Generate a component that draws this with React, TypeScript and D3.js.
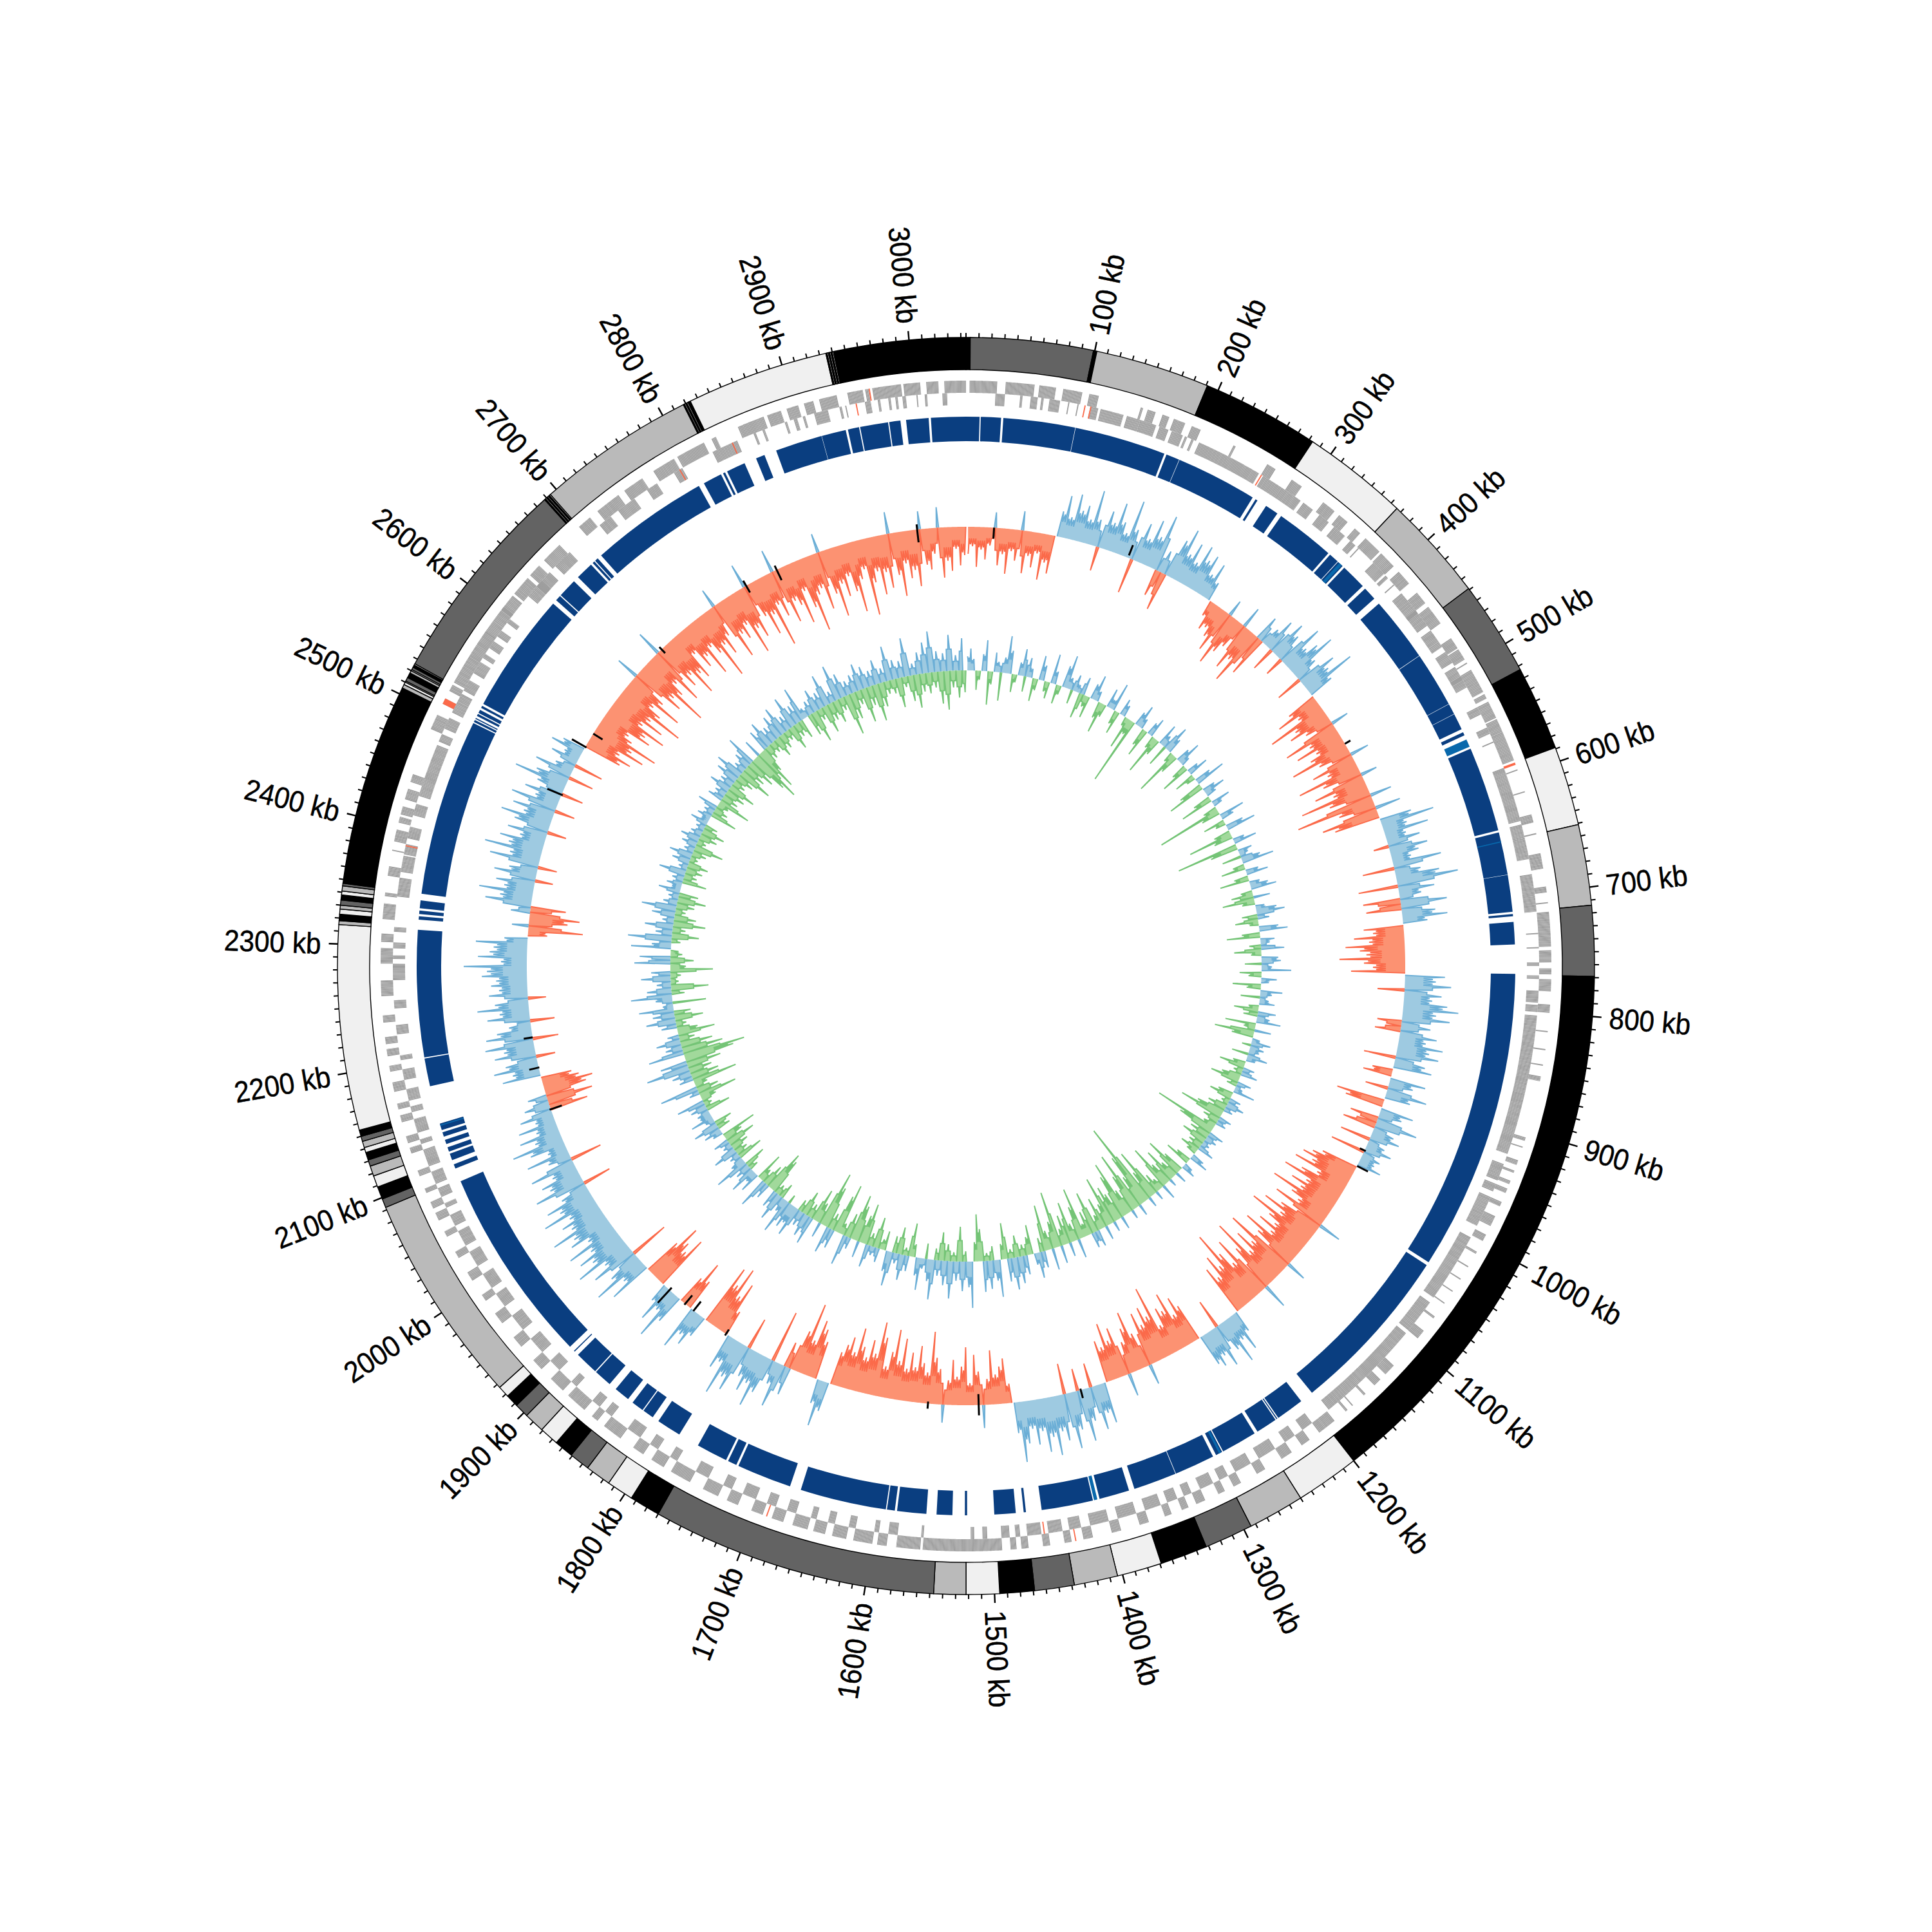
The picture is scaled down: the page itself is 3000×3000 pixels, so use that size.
import { useEffect, useRef } from 'react';
import * as d3 from 'd3';

const genomeKb = 3044;
const windowKb = 5;
const geneKb = 1.15;

// contig ends in kb, and the shade of each contig (k black, d dark, g gray, l light)
const contigEnds = [3.3, 99, 101.7, 191, 283, 366, 449, 523, 589, 651, 714, 769, 1200, 1250, 1294, 1332, 1369, 1404, 1438, 1469, 1496, 1522, 1547, 1770, 1794, 1815, 1835, 1851, 1866, 1881, 1897, 1908, 1918, 1927, 2092, 2099, 2109, 2118, 2126, 2131, 2137, 2141, 2146, 2150, 2155, 2315, 2318, 2323, 2327, 2330, 2334, 2338, 2341, 2345, 2347, 2505, 2508, 2510, 2511, 2514, 2518, 2520, 2521, 2523, 2525, 2526, 2688, 2689, 2690, 2691, 2692, 2693, 2694, 2818, 2819, 2820, 2821, 2822, 2823, 2824, 2935, 2936, 2937, 2938, 2939, 2940, 2941, 2942, 3044];
const contigShades = 'kdkgklgdklgd' + 'klgdklgdklgd' + 'klgdklgdkl' + 'gdklgdklgdk' + 'lgklgdklgd' + 'kglgdkgldkl' + 'dklklkl' + 'gklklkk' + 'lklklklk' + 'k';

// blue track, alignment blocks in kb
const alignedBlocks = [[0, 12], [13, 31], [33, 97], [97.4, 179], [181, 193], [193.4, 266], [269, 271], [280, 292], [296, 349], [351, 360], [360.5, 366], [368, 391], [394, 406], [412, 470], [470.4, 520], [520.3, 530], [530.3, 545], [548, 551], [564, 640], [642, 680], [680.3, 713], [715, 717], [722, 742], [768, 1037], [1040, 1192], [1204, 1229], [1230, 1231], [1232, 1251], [1254, 1286], [1287, 1293], [1296, 1332], [1332.5, 1371], [1376, 1403], [1409, 1455], [1469, 1471], [1478, 1497], [1521, 1523], [1534, 1548], [1557, 1583], [1585, 1592], [1593, 1670], [1680, 1729], [1731, 1739], [1741, 1769], [1788, 1810], [1816, 1826], [1827, 1838], [1843, 1857], [1864, 1880], [1881, 1902], [1906, 1907], [1912, 2088], [2100, 2104], [2108, 2114], [2116, 2120], [2123, 2127], [2130, 2134], [2136, 2142], [2176, 2201], [2202, 2315], [2324, 2327], [2329, 2332], [2334, 2341], [2347, 2505], [2506, 2508], [2509, 2510], [2512, 2514], [2515, 2518], [2520, 2522], [2524, 2632], [2636, 2641], [2642, 2659], [2664, 2680], [2682, 2684], [2685, 2688], [2692, 2798], [2803, 2820], [2822, 2824], [2826, 2843], [2854, 2862], [2873, 2915], [2915.3, 2937], [2939, 2949], [2950, 2975], [2976, 2986], [2991, 3011], [3013, 3044]];
const alignedAccent = [[555, 562], [650, 651], [362, 365], [1405, 1408], [1288, 1290], [2140, 2141]];

// gene clusters by strand, in kb
const genesOuter = [[3, 26], [33, 57], [61, 75], [81, 97], [103, 111], [147, 149], [153, 160], [166, 172], [176, 186], [192, 200], [230, 232], [262, 270], [286, 296], [318, 330], [335, 344], [352, 358], [364, 380], [382, 397], [403, 416], [426, 437], [441, 458], [473, 483], [484, 494], [497, 498], [504, 525], [527, 531], [534, 549], [550, 562], [562, 587], [595, 596], [614, 615], [634, 641], [650, 651], [667, 680], [695, 700], [708, 709], [716, 745], [748, 758], [763, 768], [772, 782], [793, 800], [815, 816], [830, 831], [843, 844], [853, 857], [905, 908], [913, 914], [925, 929], [934, 936], [943, 946], [950, 954], [962, 966], [975, 984], [992, 998], [1008, 1010], [1022, 1023], [1034, 1035], [1046, 1047], [1058, 1059], [1072, 1074], [1087, 1095], [1125, 1135], [1141, 1148], [1158, 1160], [1172, 1173], [1178, 1180], [1192, 1208], [1218, 1226], [1236, 1246], [1262, 1270], [1285, 1292], [1300, 1306], [1318, 1326], [1333, 1339], [1348, 1354], [1368, 1376], [1392, 1400], [1416, 1424], [1434, 1440], [1452, 1458], [1470, 1476], [1480, 1485], [1492, 1558], [1560, 1580], [1588, 1596], [1600, 1616], [1622, 1634], [1640, 1650], [1655, 1668], [1676, 1686], [1694, 1704], [1716, 1726], [1734, 1748], [1760, 1778], [1785, 1797], [1805, 1815], [1828, 1845], [1852, 1858], [1866, 1884], [1890, 1904], [1915, 1925], [1940, 1950], [1965, 1975], [1988, 1994], [2008, 2016], [2030, 2036], [2050, 2055], [2065, 2072], [2076, 2082], [2090, 2094], [2105, 2110], [2125, 2130], [2134, 2140], [2152, 2158], [2163, 2168], [2178, 2186], [2195, 2200], [2208, 2214], [2218, 2224], [2236, 2242], [2258, 2271], [2285, 2298], [2303, 2310], [2322, 2335], [2341, 2344], [2358, 2366], [2379, 2380], [2387, 2397], [2403, 2408], [2410, 2417], [2423, 2432], [2438, 2445], [2485, 2498], [2508, 2513], [2520, 2526], [2528, 2538], [2538, 2554], [2554, 2565], [2565, 2578], [2577, 2589], [2589, 2603], [2600, 2615], [2617, 2634], [2637, 2648], [2654, 2672], [2694, 2706], [2714, 2736], [2742, 2760], [2771, 2791], [2794, 2819], [2826, 2830], [2850, 2873], [2876, 2888], [2893, 2903], [2908, 2916], [2921, 2936], [2945, 2958], [2960, 2963], [2966, 2990], [2992, 3006], [3011, 3021], [3026, 3044]];
const genesInner = [[25, 33], [46, 48], [55, 61], [64, 66], [71, 80], [87, 88], [95, 96], [106, 113], [115, 135], [138, 150], [150, 164], [167, 175], [178, 188], [190, 192], [196, 198], [203, 260], [264, 283], [283, 302], [305, 315], [322, 332], [338, 350], [356, 362], [365, 366], [383, 396], [398, 401], [408, 409], [418, 440], [437, 453], [458, 470], [470, 475], [480, 484], [484, 491], [495, 508], [505, 515], [534, 541], [553, 559], [566, 567], [590, 637], [640, 652], [652, 670], [683, 702], [702, 715], [733, 734], [745, 746], [758, 761], [769, 772], [782, 792], [794, 800], [803, 923], [932, 947], [950, 957], [962, 989], [1000, 1060], [1065, 1095], [1098, 1190], [1208, 1218], [1226, 1236], [1246, 1262], [1270, 1285], [1292, 1300], [1306, 1318], [1326, 1333], [1339, 1348], [1354, 1368], [1376, 1392], [1400, 1416], [1424, 1434], [1440, 1452], [1458, 1470], [1476, 1480], [1485, 1492], [1504, 1508], [1515, 1518], [1558, 1560], [1580, 1588], [1596, 1600], [1616, 1622], [1634, 1640], [1650, 1655], [1668, 1676], [1686, 1694], [1704, 1716], [1726, 1734], [1748, 1760], [1778, 1785], [1797, 1805], [1815, 1828], [1845, 1852], [1858, 1866], [1884, 1890], [1904, 1915], [1925, 1940], [1950, 1965], [1975, 1988], [1994, 2008], [2016, 2030], [2036, 2050], [2055, 2065], [2072, 2076], [2082, 2090], [2094, 2105], [2110, 2125], [2130, 2134], [2140, 2152], [2158, 2163], [2168, 2178], [2186, 2195], [2203, 2207], [2225, 2233], [2247, 2254], [2271, 2285], [2289, 2292], [2298, 2303], [2312, 2316], [2342, 2358], [2363, 2377], [2378, 2387], [2392, 2402], [2412, 2422], [2429, 2445], [2445, 2475], [2478, 2485], [2490, 2500], [2505, 2516], [2516, 2523], [2526, 2536], [2543, 2554], [2558, 2562], [2568, 2575], [2580, 2586], [2594, 2598], [2623, 2640], [2634, 2650], [2657, 2674], [2708, 2720], [2728, 2745], [2758, 2768], [2785, 2793], [2822, 2845], [2860, 2862], [2868, 2870], [2888, 2890], [2896, 2899], [2904, 2906], [2914, 2926], [2936, 2938], [2941, 2942], [2958, 2963], [2969, 2971], [2978, 2980], [2984, 2986], [2990, 2993], [3002, 3003], [3009, 3011], [3024, 3028]];
const rnaOuter = [[589, 591], [1430, 1431], [1690, 1691], [2508, 2513], [2963, 2964]];
const rnaInner = [[101, 102], [106, 107], [262, 263], [1455, 1456], [2385, 2386], [2790, 2791], [2840, 2841], [2950, 2951]];

// GC content deviation, one value per 5 kb window, 100 kb per row
const gcDeviation = [
  -42, -30, -62, -35, -50, -28, 24, -58, -40, -70, -34, -48, 30, -66, -38, -55, -32, -72, -44, -60,
  40, 66, 34, 72, 48, 58, 38, 86, 42, -38, 60, 44, 78, 50, 35, 90, 46, -55, 62, 40,
  74, 50, 88, -42, 36, -60, 62, 84, 46, 68, 40, 72, 52, 64, 36, 58, 30, -25, -45, -38,
  -50, -70, 26, -85, -60, -45, 34, -75, -55, -90, 40, -65, 30, 52, -38, 60, 44, -30, 72, 40,
  56, 78, 38, -42, 62, 46, 84, 40, -48, -72, -40, -95, -55, -68, -44, 28, -88, -50, -76, -46,
  -60, -95, -52, 30, -70, -48, -100, -62, 26, -82, -54, -110, -66, 34, -124, -58, 40, -90, -72, 50,
  84, 38, 70, 32, 52, -24, 60, 44, 30, 76, -50, 40, 68, 96, -62, 56, 34, -58, 72, -55,
  52, 70, 38, -62, -48, -78, -55, -92, -70, -60, -102, -64, -50, -84, 62, 48, 72, -42, 58, 44,
  68, 86, 52, 74, -38, 46, -40, 58, 42, 70, 50, 66, -50, 48, 60, -32, -45, 56, 38, -36,
  64, 40, -76, -60, 52, 36, -45, 66, -52, 34, 46, -48, 28, 42, -55, 30, 24, 38, -58, -72,
  -85, -66, -92, -50, -74, -100, -58, -80, -60, -105, -68, -52, -88, 36, -70, -96, -62, -110, -74, -58,
  -82, -55, -98, -70, 32, -112, -66, -90, -58, -118, -75, 40, -100, -62, -86, -126, -72, -94, -60, -80,
  34, 62, 40, 74, 48, -46, 66, 44, 58, 50, -60, -78, -52, -92, -66, -74, -48, -115, -70, -88,
  -62, -84, 32, -56, -94, -70, -50, 36, -78, -60, -90, -54, -66, 64, 46, 70, -38, 52, 82, -35,
  60, 88, -48, 72, 56, 92, 62, 84, 50, 70, 44, 66, 94, 48, -30, -70, -58, -46, -84, -40,
  36, -52, -78, -34, -90, -60, -44, -70, -38, 28, -55, -72, -112, -48, -62, -88, -54, -76, -50, -96,
  -60, -108, -72, -48, -92, -115, -64, -84, -55, -70, -98, -58, -80, -66, -52, 46, 72, 38, -60, -78,
  -90, -55, -112, -65, 44, -40, 70, 36, -82, 58, 84, 50, 66, 46, -50, 78, 60, 92, 42, 56,
  -40, -85, -60, -105, -72, -98, 34, 55, 42, 70, -50, -78, -46, 46, 80, 36, 60, 30, -88, -60,
  -72, -95, -60, 68, 40, 86, 52, -62, 72, 46, 90, 58, 76, 50, 84, 44, 70, 60, 92, 54,
  66, 48, 88, 56, 74, 44, -45, 80, 52, 62, 40, 72, -50, 36, 68, 30, 56, 82, 42, 64,
  34, 60, 30, 52, -60, 40, -72, 30, -66, -78, -58, -48, 60, 42, 70, 50, -30, 64, 48, 76,
  -40, 72, 54, 34, -38, 66, 46, 80, 52, -28, 60, 44, 56, 48, 70, 62, 98, 40, 76, 58,
  52, 80, 36, -30, -85, 26, -60, -78, 30, -55, 72, 50, 84, 46, 60, -28, 66, 44, -30, 78,
  48, 90, 54, 70, 40, 62, -30, 56, 80, 46, 66, -32, 74, 38, 58, -35, 44, 84, 52, -40,
  60, 30, -46, 44, 26, 52, 36, -60, -75, -52, -90, -66, -105, -58, -48, -82, -70, -100, -56, -88,
  -62, -112, -70, -52, -96, -60, 36, -84, -66, -118, -72, -54, -92, 40, -76, -60, -100, -68, -80, -40,
  -70, -55, -92, -48, -64, -110, -58, -78, -50, 30, -96, -60, -72, -52, -104, -66, -84, 38, -56, -90,
  -60, -115, -50, -72, 36, -88, -56, -66, -98, -48, -78, -118, -62, -54, -90, 30, -70, -108, -58, -80,
  -50, -76, -110, -60, -46, -120, -70, -54, -92, -58, -84, 34, -66, -100, -50, -74, -62, -88, 28, -56,
  -64, -40, 32, -78, -52, -68, -34, -60, -44,
];

// GC skew, same windows
const gcSkew = [
  22, 34, 18, -30, -14, 26, 48, -52, -20, 30, 16, -44, 24, 58, 36, -28, -12, 20, 42, -24,
  30, 14, -36, -18, 38, 24, -16, -26, 46, 20, -30, -14, 34, 52, 18, -22, 26, 12, -40, 28,
  -18, -34, 24, 40, 16, -26, -48, -20, 30, 14, 44, -22, -36, 26, 18, -14, -50, -24, -106, 22,
  36, 16, -28, -44, 20, 30, -20, -62, -26, 34, 18, -34, 42, 24, -16, -72, -30, 22, 38, 14,
  -24, -46, 18, 32, -32, -14, 26, 48, -38, -60, 20, 34, 16, -28, -52, 30, 14, -22, -102, -30,
  40, 20, -34, -16, 28, 46, -26, -70, -30, 18, 36, -97, -44, 22, 14, -30, 30, 50, -18, -38,
  20, 34, -22, -46, 16, 28, 40, -18, -34, 26, -50, -20, 14, 32, 44, -24, 18, -36, -14, 30,
  44, -28, -52, 22, 14, -18, 36, -42, -16, 26, 30, -26, 16, 46, -34, -20, 24, 12, -44, -22,
  34, 18, -30, 14, 24, -16, -38, 28, -22, 20, 38, -48, -18, 26, -62, -34, 12, 30, -14, 22,
  16, -26, 32, 14, -20, -40, 18, -14, 26, -30, -46, 22, -16, 12, 34, -24, -36, 18, -12, 28,
  -30, 14, -44, -70, 20, -26, 16, -20, -100, -58, 24, -32, 18, -40, 12, -22, 26, -30, -16, 20,
  30, -24, -40, 14, 22, -34, -62, 18, -28, -54, 12, -36, -70, 24, -18, -30, 14, -80, -46, 16,
  -135, -84, -50, 18, -95, -60, 14, -40, -90, -70, 20, -44, -58, 16, -78, -36, 22, -50, -24, 26,
  -66, 24, -38, -20, -80, -52, 30, -28, -64, 22, -46, -26, 28, -88, -42, 34, -30, -72, 26, -22,
  40, 18, -46, -28, 30, -18, 42, -34, 50, -14, 36, -56, -24, 58, 32, -22, 44, -12, 48, -50,
  -73, -30, 72, 40, -16, 46, -54, 30, -14, 58, -26, 38, -44, 24, -18, 62, 34, -24, 16, 50,
  28, -20, -52, 24, -12, 40, -42, 16, -26, 54, 32, -30, -16, 22, -48, 14, -20, 36, -64, -44,
  26, -56, -72, 18, -38, 48, -18, -80, -60, 30, -26, 42, -66, -88, 24, -32, -52, 44, -22, 36,
  -38, 24, -18, 48, 30, 40, -14, 56, 22, -24, 44, -16, 28, -56, -66, 24, -34, 48, -20, -44,
  32, 18, 42, -14, 24, -34, 54, 22, -40, 16, -20, 38, -28, 14, -46, 24, -30, -56, 16, 28,
  -20, 40, -28, 14, 36, 18, 20, -38, 26, -12, 44, -24, -60, 16, -34, 60, -20, -70, 22, -44,
  30, -36, 68, -54, 42, -78, -97, 56, -64, 26, -50, 38, -24, 18, -58, -32, 24, -16, 46, -44,
  34, -26, 54, 16, -52, 26, 64, -20, 38, -58, 22, -12, 46, -16, 30, -66, -24, 56, -36, 48,
  -18, -12, 62, 30, -14, 68, -42, 26, -20, 44, -50, 18, -34, 36, -16, 54, -28, 22, -44, 16,
  -30, 34, 14, 24, -38, 18, -20, 42, -26, 14, -32, 28, -12, 36, -22, 16, -46, 24, -14, 30,
  -28, 18, -36, 14, -20, 28, 12, 22, -42, 16, -22, 32, -18, -52, 24, -26, 18, -32, 34, -44,
  22, -20, 36, -28, 44, -54, 18, -36, 26, -46, 48, -62, -82, 28, -68, -40, 34, -22, 42, -18,
  26, -32, 38, -24, 46, -16, 24, -38, 50, -22, 30, -30, 54, 16, -34, 22, -50, 36, -18, 26,
  -44, 50, -28, 18, -36, 56, -20, 38, -64, 22, -42, 28, -22, 42, -54, 34, -30, 24, -58, 38,
  -38, 22, -20, 54, -22, 30, -46, 26, -16, 60, -40, 18, -52, 34, -28, 48, -32, 64, -24, 32,
  -50, 28, -60, 56, -26, 24, -42, 50, -34,
];

// short black marks in the GC track: kb, low and high deviation
const gcMarks = [[31, -17, 0], [183, 4, 21], [504, 0, 10], [971, -8, 2], [990, 0, 19], [1394, -2, 13], [1508, -17, 16], [1564, -3, 8], [1802, -8, 3], [1846, -18, 1], [1858, -17, 2], [1881, -5, 27], [2122, -18, 2], [2170, -1, 15], [2204, 0, 14], [2477, -2, 24], [2536, -2, 24], [2553, -17, 0], [2673, -8, 5], [2790, -12, 9], [2828, -18, 7], [2990, -20, 8]];

const shadeColor: Record<string, string> = { k: '#000000', d: '#636363', g: '#bababa', l: '#f0f0f0' };

export default function App() {
  const svgRef = useRef<SVGSVGElement>(null);

  useEffect(() => {
    if (!svgRef.current) return;
    const svg = d3.select(svgRef.current);
    svg.selectAll('*').remove();

    const root = svg.append('g').attr('transform', 'translate(1500,1500)');
    const angle = d3.scaleLinear().domain([0, genomeKb]).range([0, 2 * Math.PI]);
    const arc = d3.arc<any>();

    const band = (blocks: number[][], r0: number, r1: number, fill: string) => {
      root.append('g')
        .selectAll('path')
        .data(blocks)
        .join('path')
        .attr('d', (d: number[]) => arc({ innerRadius: r0, outerRadius: r1, startAngle: angle(d[0]), endAngle: angle(d[1]) }))
        .attr('fill', fill);
    };

    // one arc per gene inside a cluster, the thin gaps give the striped look
    const splitGenes = (blocks: number[][]) =>
      blocks.flatMap(([s, e]) => d3.range(s, e, geneKb).map((g) => [g, Math.min(g + geneKb - 0.1, e)]));

    // ideogram
    root.append('g')
      .selectAll('path')
      .data(contigEnds)
      .join('path')
      .attr('d', (d, i) => arc({ innerRadius: 926, outerRadius: 976, startAngle: angle(i ? contigEnds[i - 1] : 0), endAngle: angle(d) }))
      .attr('fill', (d, i) => shadeColor[contigShades[i]])
      .attr('stroke', '#000')
      .attr('stroke-width', 1.4);

    // ticks and labels
    const ticks = d3.range(0, genomeKb, 10);
    root.append('g')
      .selectAll('line')
      .data(ticks)
      .join('line')
      .attr('transform', (d) => `rotate(${(angle(d) * 180) / Math.PI})`)
      .attr('y1', -976)
      .attr('y2', (d) => (d % 100 === 0 && d > 0 ? -990 : -983))
      .attr('stroke', '#000')
      .attr('stroke-width', (d) => (d % 100 === 0 && d > 0 ? 2.4 : 2));

    root.append('g')
      .selectAll('text')
      .data(d3.range(100, genomeKb, 100))
      .join('text')
      .attr('transform', (d) => {
        const deg = (angle(d) * 180) / Math.PI;
        return deg < 180 ? `rotate(${deg - 90}) translate(1002,0) scale(0.92,1)` : `rotate(${deg + 90}) translate(-1002,0) scale(0.92,1)`;
      })
      .attr('text-anchor', (d) => ((angle(d) * 180) / Math.PI < 180 ? 'start' : 'end'))
      .attr('dominant-baseline', 'central')
      .attr('font-family', '"Liberation Sans Narrow", "Liberation Sans", sans-serif')
      .attr('font-size', 46)
      .attr('fill', '#000')
      .attr('stroke', '#000')
      .attr('stroke-width', 0.5)
      .text((d) => `${d} kb`);

    // genes, strand by strand
    band(splitGenes(genesOuter), 890, 909, '#9e9e9e');
    band(splitGenes(genesInner), 871, 890, '#9e9e9e');
    band(rnaOuter, 890, 909, '#fb6a4a');
    band(rnaInner, 871, 890, '#fb6a4a');

    // alignment blocks
    band(alignedBlocks, 815, 853, '#0a3e80');
    band(alignedAccent, 815, 853, '#0868ac');

    // signed tracks: each window is a narrow peak. Troughs between neighbours stay at a
    // share of the lower one, with a small shoulder peak on the window edge, and a lone
    // window of the other sign only cuts a narrow notch into the band
    const troughShare = 0.6;
    const shoulderShare = 0.9;
    const signedTrack = (
      values: number[],
      scale: d3.ScaleLinear<number, number>,
      sign: number,
      fill: string,
      line: string,
    ) => {
      const clipped = values.map((v) => (sign > 0 ? Math.max(v, 0) : Math.min(v, 0)));
      const at = (i: number) => clipped[i] ?? 0;
      const level = (i: number) => {
        // level shared by windows i and i + 1
        const a = Math.abs(at(i));
        const b = Math.abs(at(i + 1));
        if (a && b) return Math.min(a, b);
        if (a && !b && at(i + 2)) return a;
        if (b && !a && at(i - 1)) return b;
        return 0;
      };
      const points: [number, number][] = clipped.flatMap((v, i) => {
        const mid = (i + 0.5) * windowKb;
        const edge = level(i);
        const both = at(i) !== 0 && at(i + 1) !== 0;
        return [
          [mid, v],
          [mid + 0.25 * windowKb, sign * troughShare * edge],
          [mid + 0.5 * windowKb, sign * (both ? shoulderShare : troughShare) * edge],
          [mid + 0.75 * windowKb, sign * troughShare * edge],
        ] as [number, number][];
      });
      const area = d3.areaRadial<[number, number]>()
        .angle((d) => angle(d[0]))
        .innerRadius(scale(0))
        .outerRadius((d) => scale(d[1]))
        .curve(d3.curveLinearClosed);
      const outline = d3.lineRadial<[number, number]>()
        .angle((d) => angle(d[0]))
        .radius((d) => scale(d[1]))
        .defined((d, i) => d[1] !== 0 || (points[i - 1]?.[1] ?? 0) !== 0 || (points[i + 1]?.[1] ?? 0) !== 0);
      root.append('path').attr('d', area(points)).attr('fill', fill);
      root.append('path')
        .attr('d', outline(points))
        .attr('fill', 'none')
        .attr('stroke', line)
        .attr('stroke-width', 1.9);
    };

    const gcScale = d3.scaleLinear().domain([-100, 100]).range([582, 782]);
    const skewScale = d3.scaleLinear().domain([-100, 100]).range([359, 559]);

    signedTrack(gcDeviation, gcScale, 1, '#9ecae1', '#6baed6');
    signedTrack(gcDeviation, gcScale, -1, '#fc9272', '#fb6a4a');
    signedTrack(gcSkew, skewScale, 1, '#9ecae1', '#6baed6');
    signedTrack(gcSkew, skewScale, -1, '#a1d99b', '#74c476');

    root.append('g')
      .selectAll('line')
      .data(gcMarks)
      .join('line')
      .attr('transform', (d) => `rotate(${(angle(d[0]) * 180) / Math.PI})`)
      .attr('y1', (d) => -gcScale(d[1]))
      .attr('y2', (d) => -gcScale(d[2]))
      .attr('stroke', '#000')
      .attr('stroke-width', 3);
  }, []);

  return <svg ref={svgRef} width={3000} height={3000} style={{ position: 'absolute', left: 0, top: 0, background: '#fff' }} />;
}
